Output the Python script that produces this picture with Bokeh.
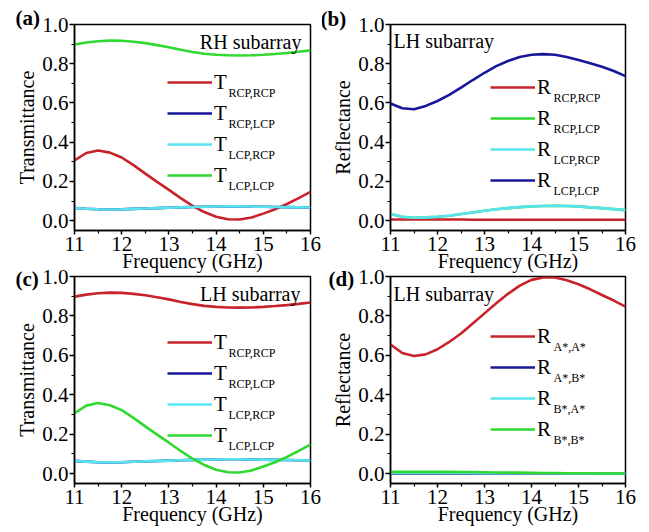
from bokeh.plotting import figure
from bokeh.models import Range1d, FixedTicker, Legend, LegendItem, Label, Title, NumeralTickFormatter
from bokeh.layouts import column, row
from bokeh.embed import file_html
from bokeh.resources import INLINE

# ---------------------------------------------------------------- data
freq = [11.0, 11.25, 11.5, 11.75, 12.0, 12.25, 12.5, 12.75, 13.0, 13.25, 13.5,
        13.75, 14.0, 14.25, 14.5, 14.75, 15.0, 15.25, 15.5, 15.75, 16.0]

# transmission (co-pol high / co-pol low / cross-pol)
t_co_high = [0.898, 0.908, 0.915, 0.918, 0.917, 0.912, 0.905, 0.895, 0.884, 0.871, 0.860,
             0.851, 0.846, 0.843, 0.842, 0.843, 0.846, 0.850, 0.855, 0.861, 0.868]
t_co_low = [0.307, 0.345, 0.358, 0.347, 0.322, 0.283, 0.240, 0.198, 0.157, 0.115, 0.076,
            0.044, 0.020, 0.007, 0.006, 0.016, 0.036, 0.058, 0.085, 0.115, 0.147]
t_cross = [0.065, 0.061, 0.058, 0.057, 0.058, 0.060, 0.062, 0.064, 0.066, 0.068, 0.070,
           0.071, 0.072, 0.073, 0.073, 0.072, 0.071, 0.070, 0.069, 0.068, 0.067]

# reflection, LH subarray, circular basis
r_rcp_rcp = [0.006, 0.006, 0.006, 0.006, 0.006, 0.006, 0.006, 0.005, 0.005, 0.005, 0.005,
             0.005, 0.005, 0.005, 0.005, 0.005, 0.005, 0.005, 0.005, 0.005, 0.005]
r_cross = [0.034, 0.020, 0.015, 0.017, 0.020, 0.025, 0.034, 0.042, 0.051, 0.058, 0.064,
           0.069, 0.073, 0.075, 0.076, 0.075, 0.073, 0.068, 0.064, 0.059, 0.054]
r_lcp_lcp = [0.597, 0.573, 0.568, 0.585, 0.610, 0.641, 0.678, 0.717, 0.754, 0.788, 0.814,
             0.834, 0.846, 0.849, 0.846, 0.834, 0.819, 0.802, 0.785, 0.763, 0.737]

# reflection, LH subarray, A*/B* basis
r_aa = [0.655, 0.612, 0.597, 0.605, 0.631, 0.668, 0.711, 0.762, 0.813, 0.864, 0.912,
        0.954, 0.983, 0.995, 0.995, 0.981, 0.961, 0.935, 0.906, 0.878, 0.847]
r_ab = [0.001, 0.001, 0.001, 0.001, 0.001, 0.001, 0.001, 0.001, 0.001, 0.001, 0.001,
        0.001, 0.001, 0.001, 0.001, 0.001, 0.001, 0.001, 0.001, 0.001, 0.001]
r_ba = [0.003, 0.003, 0.003, 0.003, 0.003, 0.003, 0.003, 0.003, 0.002, 0.002, 0.002,
        0.002, 0.002, 0.002, 0.002, 0.001, 0.001, 0.001, 0.001, 0.001, 0.001]
r_bb = [0.009, 0.009, 0.009, 0.009, 0.009, 0.009, 0.008, 0.008, 0.007, 0.006, 0.005,
        0.005, 0.004, 0.003, 0.003, 0.002, 0.002, 0.002, 0.001, 0.001, 0.001]

x_ticks = [11, 12, 13, 14, 15, 16]
x_minor = [11.5, 12.5, 13.5, 14.5, 15.5]
y_ticks = [0.0, 0.2, 0.4, 0.6, 0.8, 1.0]
y_minor = [0.1, 0.3, 0.5, 0.7, 0.9]

x_title = "Frequency (GHz)"
sub_t = ["RCP,RCP", "RCP,LCP", "LCP,RCP", "LCP,LCP"]
sub_abstar = ["A*,A*", "A*,B*", "B*,A*", "B*,B*"]

# ---------------------------------------------------------------- style
SERIF = "Liberation Serif"
RED, BLUE, CYAN, GREEN = "#c8232a", "#17179a", "#58e4ef", "#30d930"
X0, X1, Y0, Y1 = 11.0, 16.0, -0.05, 1.0
LW = 2.6
ROW_H, ROW_GAP = 26, 5

frame_size = {}


def style_axis(ax):
    ax.axis_line_width = 1.5
    ax.axis_line_color = "black"
    ax.major_tick_line_width = 1.5
    ax.minor_tick_line_width = 1.2
    ax.major_tick_in = 0
    ax.minor_tick_in = 0
    ax.major_tick_out = 5
    ax.minor_tick_out = 3
    ax.major_label_text_font = SERIF
    ax.major_label_text_font_size = "21px"
    ax.major_label_text_color = "black"


def axis_title(text, standoff, vertical_align):
    return Title(text=text, align="center", vertical_align=vertical_align, standoff=standoff,
                 text_font=SERIF, text_font_size="20px", text_font_style="normal",
                 text_color="black")


def make_panel(width, height, left, right, top, bottom, ylabel, transparent=False):
    p = figure(width=width, height=height,
               min_border_left=left, min_border_right=right,
               min_border_top=top, min_border_bottom=bottom,
               x_range=Range1d(X0, X1), y_range=Range1d(Y0, Y1),
               output_backend="svg", toolbar_location=None)
    frame_size[p.id] = (width - left - right, height - top - bottom)
    p.xgrid.visible = False
    p.ygrid.visible = False
    p.outline_line_color = "black"
    p.outline_line_width = 1.5
    p.outline_line_alpha = 1.0
    p.background_fill_color = "white"
    p.border_fill_color = "white"
    if transparent:
        p.border_fill_alpha = 0.0
    p.xaxis.ticker = FixedTicker(ticks=x_ticks, minor_ticks=x_minor)
    p.yaxis.ticker = FixedTicker(ticks=y_ticks, minor_ticks=y_minor)
    p.yaxis.formatter = NumeralTickFormatter(format="0.0")
    style_axis(p.xaxis[0])
    style_axis(p.yaxis[0])
    p.xaxis.major_tick_out = 4
    p.xaxis.major_label_standoff = 2
    p.yaxis.major_label_standoff = 1
    # axis titles sit in the side panels, just outside the tick labels
    p.add_layout(axis_title(x_title, -8, "top"), "below")
    p.add_layout(axis_title(ylabel, 4, "bottom"), "left")
    return p


def at(p, dx, dy):
    """Data coordinates of a point dx px right of / dy px below the frame's top-left."""
    fw, fh = frame_size[p.id]
    return (X0 + dx / fw * (X1 - X0), Y1 - dy / fh * (Y1 - Y0))


def add_curves(p, series, colors, letter, subs, leg_x, row1):
    rends = [p.line(freq, ys, line_color=c, line_width=LW) for ys, c in zip(series, colors)]
    items = [LegendItem(label=letter, renderers=[r]) for r in rends]
    fw, fh = frame_size[p.id]
    leg_h = 4 * ROW_H + 3 * ROW_GAP
    leg_bottom = fh - (row1 - ROW_H / 2) - leg_h
    leg = Legend(items=items, location=(leg_x, round(leg_bottom)), orientation="vertical",
                 glyph_width=45, glyph_height=ROW_H, label_height=ROW_H, spacing=ROW_GAP,
                 padding=0, margin=0, label_standoff=2,
                 border_line_alpha=0, background_fill_alpha=0,
                 label_text_font=SERIF, label_text_font_size="21px",
                 label_text_color="black")
    p.add_layout(leg)
    shift = 61 if letter == "T" else 63
    for i, s in enumerate(subs):
        x, y = at(p, leg_x + shift, row1 + (ROW_H + ROW_GAP) * i + 10)
        p.add_layout(Label(x=x, y=y, text=s, text_font=SERIF, text_font_size="12px",
                           text_baseline="middle", text_align="left", text_color="black"))


def add_title(p, text, dx, dy, align):
    x, y = at(p, dx, dy)
    p.add_layout(Label(x=x, y=y, text=text, text_font=SERIF, text_font_size="20px",
                       text_baseline="middle", text_align=align, text_color="black"))


def add_letter(p, text, offset, standoff):
    # panel letter as the figure title, pulled left over the y axis
    p.title = Title(text=text, align="left", offset=offset, standoff=standoff,
                    vertical_align="bottom", text_font=SERIF, text_font_size="21px",
                    text_font_style="bold", text_color="black")


# (a) RH subarray transmission
pa = make_panel(322, 278, 74, 12, 24, 48, "Transmittance")
add_curves(pa, [t_co_low, t_cross, t_cross, t_co_high], [RED, BLUE, CYAN, GREEN],
           "T", sub_t, 93, 58)
add_title(pa, "RH subarray", 227, 17, "right")
add_letter(pa, "(a)", -59, -10)

# (b) LH subarray reflection
pb = make_panel(327, 278, 68, 24, 24, 48, "Reflectance")
add_curves(pb, [r_rcp_rcp, r_cross, r_cross, r_lcp_lcp], [RED, GREEN, CYAN, BLUE],
           "R", sub_t, 100, 63)
add_title(pb, "LH subarray", 3, 16, "left")
add_letter(pb, "(b)", -70, -13)

# (c) LH subarray transmission
pc = make_panel(322, 270, 74, 12, 14, 49, "Transmittance", transparent=True)
add_curves(pc, [t_co_high, t_cross, t_cross, t_co_low], [RED, BLUE, CYAN, GREEN],
           "T", sub_t, 93, 66)
add_title(pc, "LH subarray", 226, 17, "right")
add_letter(pc, "(c)", -59, -28)

# (d) LH subarray reflection, A*/B* basis
pd = make_panel(327, 270, 68, 24, 14, 49, "Reflectance", transparent=True)
add_curves(pd, [r_aa, r_ab, r_ba, r_bb], [RED, BLUE, CYAN, GREEN],
           "R", sub_abstar, 100, 60)
add_title(pd, "LH subarray", 3, 17, "left")
add_letter(pd, "(d)", -62, -28)

# the lower row tucks up under the upper row's axis titles
layout = column(row(pa, pb), row(pc, pd, margin=(-16, 0, 0, 0)))
open("out.html", "w").write(file_html(layout, INLINE))
